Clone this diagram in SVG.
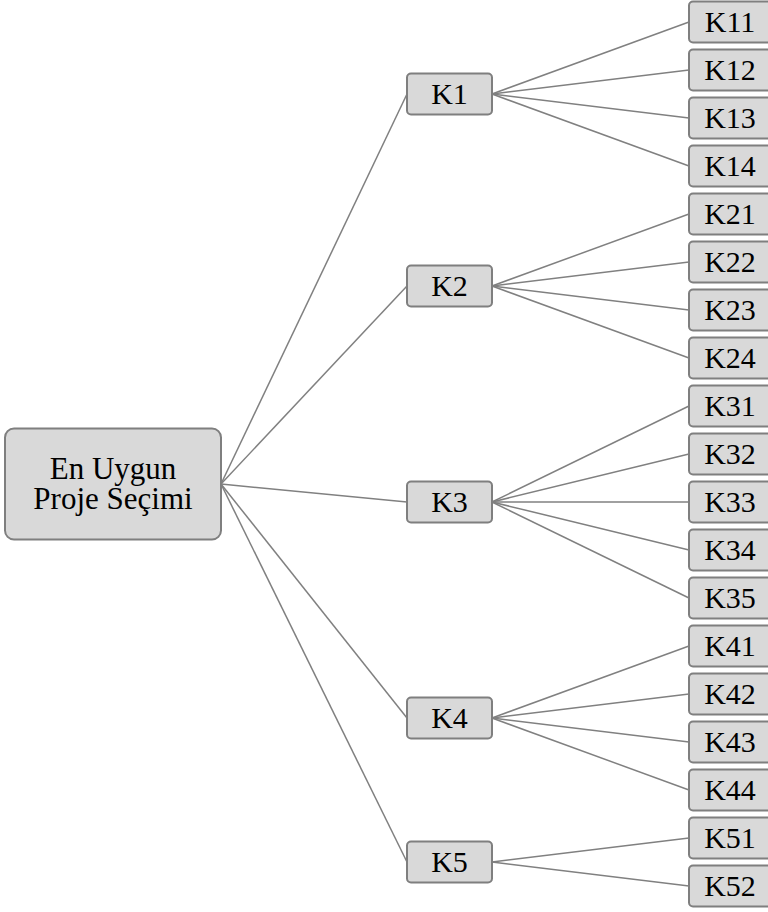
<svg xmlns="http://www.w3.org/2000/svg" width="768" height="912" viewBox="0 0 768 912">
<style>
rect.n{fill:#d9d9d9;stroke:#7f7f7f;stroke-width:2}
text{font-family:"Liberation Serif","Times New Roman",serif;font-size:30px;fill:#000;text-anchor:middle}
text.r{font-size:31px}
#edges line{stroke:#808080;stroke-width:1.5}
</style>
<rect width="768" height="912" fill="#fff"/>
<g id="edges">
<line x1="221" y1="484" x2="407" y2="94"/>
<line x1="221" y1="484" x2="407" y2="286"/>
<line x1="221" y1="484" x2="407" y2="502"/>
<line x1="221" y1="484" x2="407" y2="718"/>
<line x1="221" y1="484" x2="407" y2="862"/>
<line x1="492" y1="94" x2="689" y2="22"/>
<line x1="492" y1="94" x2="689" y2="70"/>
<line x1="492" y1="94" x2="689" y2="118"/>
<line x1="492" y1="94" x2="689" y2="166"/>
<line x1="492" y1="286" x2="689" y2="214"/>
<line x1="492" y1="286" x2="689" y2="262"/>
<line x1="492" y1="286" x2="689" y2="310"/>
<line x1="492" y1="286" x2="689" y2="358"/>
<line x1="492" y1="502" x2="689" y2="406"/>
<line x1="492" y1="502" x2="689" y2="454"/>
<line x1="492" y1="502" x2="689" y2="502"/>
<line x1="492" y1="502" x2="689" y2="550"/>
<line x1="492" y1="502" x2="689" y2="598"/>
<line x1="492" y1="718" x2="689" y2="646"/>
<line x1="492" y1="718" x2="689" y2="694"/>
<line x1="492" y1="718" x2="689" y2="742"/>
<line x1="492" y1="718" x2="689" y2="790"/>
<line x1="492" y1="862" x2="689" y2="838"/>
<line x1="492" y1="862" x2="689" y2="886"/>
</g>
<g id="root"><rect class="n" x="5" y="428.5" width="216" height="111" rx="9"/><text class="r" x="113" y="478.5">En Uygun</text><text class="r" x="113" y="508.5">Proje Seçimi</text></g>
<g id="K1"><rect class="n" x="407" y="73.5" width="85" height="41" rx="4"/><text x="449.5" y="103.5">K1</text></g>
<g id="K2"><rect class="n" x="407" y="265.5" width="85" height="41" rx="4"/><text x="449.5" y="295.5">K2</text></g>
<g id="K3"><rect class="n" x="407" y="481.5" width="85" height="41" rx="4"/><text x="449.5" y="511.5">K3</text></g>
<g id="K4"><rect class="n" x="407" y="697.5" width="85" height="41" rx="4"/><text x="449.5" y="727.5">K4</text></g>
<g id="K5"><rect class="n" x="407" y="841.5" width="85" height="41" rx="4"/><text x="449.5" y="871.5">K5</text></g>
<g id="K11"><rect class="n" x="689" y="1.5" width="82" height="41" rx="4"/><text x="730" y="31.5">K11</text></g>
<g id="K12"><rect class="n" x="689" y="49.5" width="82" height="41" rx="4"/><text x="730" y="79.5">K12</text></g>
<g id="K13"><rect class="n" x="689" y="97.5" width="82" height="41" rx="4"/><text x="730" y="127.5">K13</text></g>
<g id="K14"><rect class="n" x="689" y="145.5" width="82" height="41" rx="4"/><text x="730" y="175.5">K14</text></g>
<g id="K21"><rect class="n" x="689" y="193.5" width="82" height="41" rx="4"/><text x="730" y="223.5">K21</text></g>
<g id="K22"><rect class="n" x="689" y="241.5" width="82" height="41" rx="4"/><text x="730" y="271.5">K22</text></g>
<g id="K23"><rect class="n" x="689" y="289.5" width="82" height="41" rx="4"/><text x="730" y="319.5">K23</text></g>
<g id="K24"><rect class="n" x="689" y="337.5" width="82" height="41" rx="4"/><text x="730" y="367.5">K24</text></g>
<g id="K31"><rect class="n" x="689" y="385.5" width="82" height="41" rx="4"/><text x="730" y="415.5">K31</text></g>
<g id="K32"><rect class="n" x="689" y="433.5" width="82" height="41" rx="4"/><text x="730" y="463.5">K32</text></g>
<g id="K33"><rect class="n" x="689" y="481.5" width="82" height="41" rx="4"/><text x="730" y="511.5">K33</text></g>
<g id="K34"><rect class="n" x="689" y="529.5" width="82" height="41" rx="4"/><text x="730" y="559.5">K34</text></g>
<g id="K35"><rect class="n" x="689" y="577.5" width="82" height="41" rx="4"/><text x="730" y="607.5">K35</text></g>
<g id="K41"><rect class="n" x="689" y="625.5" width="82" height="41" rx="4"/><text x="730" y="655.5">K41</text></g>
<g id="K42"><rect class="n" x="689" y="673.5" width="82" height="41" rx="4"/><text x="730" y="703.5">K42</text></g>
<g id="K43"><rect class="n" x="689" y="721.5" width="82" height="41" rx="4"/><text x="730" y="751.5">K43</text></g>
<g id="K44"><rect class="n" x="689" y="769.5" width="82" height="41" rx="4"/><text x="730" y="799.5">K44</text></g>
<g id="K51"><rect class="n" x="689" y="817.5" width="82" height="41" rx="4"/><text x="730" y="847.5">K51</text></g>
<g id="K52"><rect class="n" x="689" y="865.5" width="82" height="41" rx="4"/><text x="730" y="895.5">K52</text></g>
</svg>
